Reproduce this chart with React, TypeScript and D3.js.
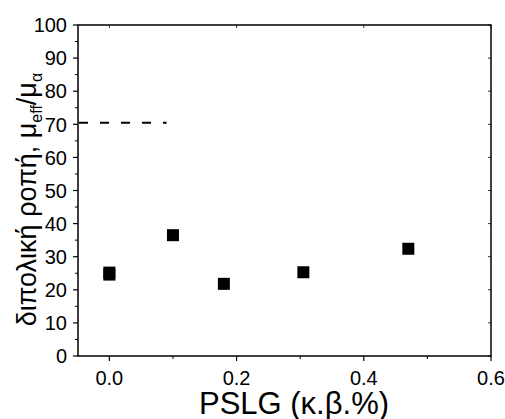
import React from "react";
import * as d3 from "d3";

const xValues = [0.0, 0.0, 0.1, 0.18, 0.305, 0.47];
const yValues = [24.6, 25.2, 36.5, 21.8, 25.3, 32.4];
const refLineY = 70.5;
const refLineXEnd = 0.09;
const xTicks = [0.0, 0.2, 0.4, 0.6];
const xMinorTicks = [0.1, 0.3, 0.5];
const yTicks = [0, 10, 20, 30, 40, 50, 60, 70, 80, 90, 100];
const yMinorTicks = [5, 15, 25, 35, 45, 55, 65, 75, 85, 95];

const W = 505, H = 419;
const L = 78, R = 491, T = 25, B = 356;
const font = "Arial, 'Liberation Sans', sans-serif";

export default function App() {
  const x = d3.scaleLinear().domain([-0.0493, 0.6]).range([L, R]);
  const y = d3.scaleLinear().domain([0, 100]).range([B, T]);
  const ms = 12;
  return (
    <svg width={W} height={H} style={{ position: "absolute", left: 0, top: 0, background: "#fff" }}>
      <rect x={0} y={0} width={W} height={H} fill="#fff" />
      {/* frame */}
      <rect x={L} y={T} width={R - L} height={B - T} fill="none" stroke="#000" strokeWidth={1.5} />
      {/* y ticks */}
      {yTicks.map((v) => (
        <g key={"yt" + v}>
          <line x1={L - 5} x2={L} y1={y(v)} y2={y(v)} stroke="#000" strokeWidth={1.2} />
          <line x1={R} x2={R - 3} y1={y(v)} y2={y(v)} stroke="#000" strokeWidth={0.8} />
          <text x={L - 11} y={y(v)} dy="0.36em" textAnchor="end" fontSize={20} fontFamily={font}>{v}</text>
        </g>
      ))}
      {yMinorTicks.map((v) => (
        <line key={"ym" + v} x1={L - 3} x2={L} y1={y(v)} y2={y(v)} stroke="#000" strokeWidth={1} />
      ))}
      {/* x ticks */}
      {xTicks.map((v) => (
        <g key={"xt" + v}>
          <line x1={x(v)} x2={x(v)} y1={B} y2={B + 5} stroke="#000" strokeWidth={1.2} />
          <line x1={x(v)} x2={x(v)} y1={T} y2={T + 3} stroke="#000" strokeWidth={0.8} />
          <text x={x(v)} y={385} textAnchor="middle" fontSize={20} fontFamily={font}>{d3.format(".1f")(v)}</text>
        </g>
      ))}
      {xMinorTicks.map((v) => (
        <line key={"xm" + v} x1={x(v)} x2={x(v)} y1={B} y2={B + 3} stroke="#000" strokeWidth={1} />
      ))}
      {/* dashed reference line */}
      <line x1={L + 1} x2={x(refLineXEnd)} y1={y(refLineY)} y2={y(refLineY)} stroke="#000" strokeWidth={2} strokeDasharray="9,12" />
      {/* points */}
      {xValues.map((xv, i) => (
        <rect key={"p" + i} x={x(xv) - ms / 2} y={y(yValues[i]) - ms / 2} width={ms} height={ms} fill="#000" />
      ))}
      {/* axis titles */}
      <text x={294} y={414} textAnchor="middle" fontSize={31} fontFamily={font}>PSLG (κ.β.%)</text>
      <text transform={`translate(36, ${(T + B) / 2 + 9}) rotate(-90)`} textAnchor="middle" fontSize={27} fontFamily={font}>
        διπολική ροπή, μ<tspan fontSize={16} dy={6}>eff</tspan><tspan dy={-6}>/μ</tspan><tspan fontSize={16} dy={6}>α</tspan>
      </text>
    </svg>
  );
}
